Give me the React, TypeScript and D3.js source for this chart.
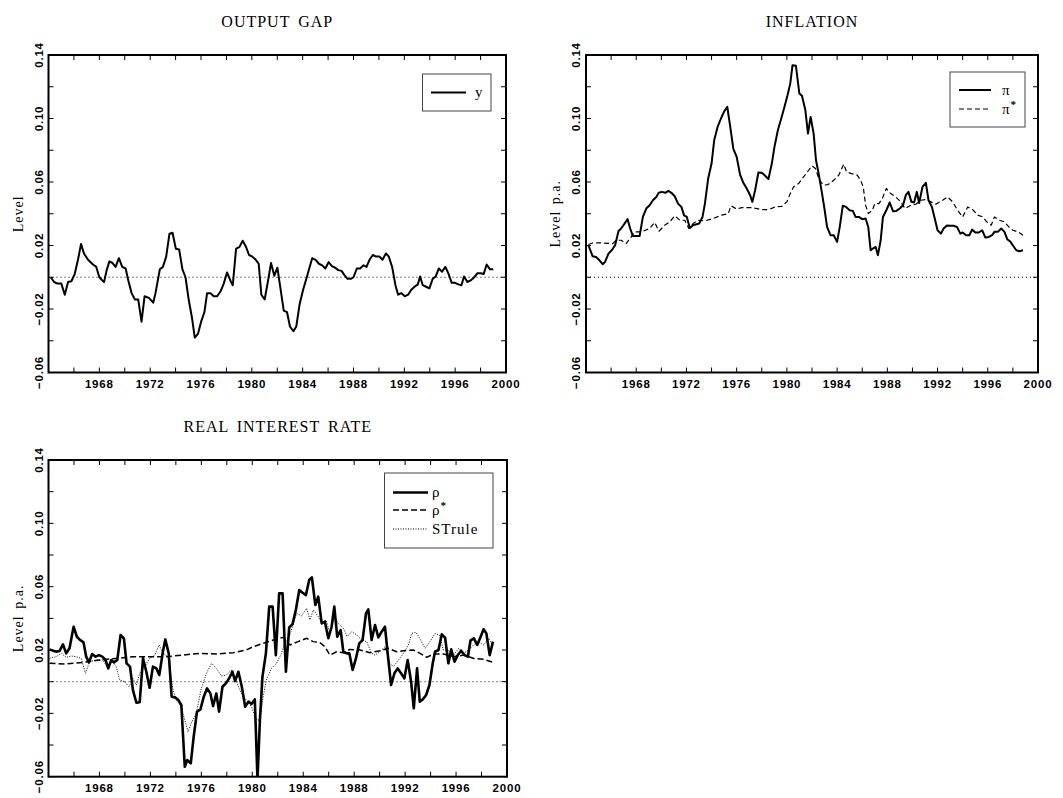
import * as d3 from "d3";
import React from "react";

// x: year (quarterly), y: level
type Pt = [number, number];

const X_DOMAIN: [number, number] = [1964, 2000];
const Y_DOMAIN: [number, number] = [-0.06, 0.14];
const X_TICKS = d3.range(1964, 2001, 2);
const X_LABELS = [1968, 1972, 1976, 1980, 1984, 1988, 1992, 1996, 2000];
const Y_TICKS = [-0.06, -0.04, -0.02, 0, 0.02, 0.04, 0.06, 0.08, 0.1, 0.12, 0.14];
const Y_LABELS = [-0.06, -0.02, 0.02, 0.06, 0.1, 0.14];

const outputGap: Pt[] = [
  [1964.18, 0.0], [1964.44, -0.003], [1964.7, -0.004], [1965.01, -0.004], [1965.28, -0.011],
  [1965.54, -0.003], [1965.8, -0.0025], [1966.06, 0.002], [1966.32, 0.011], [1966.56, 0.021],
  [1966.79, 0.015], [1967.11, 0.011], [1967.5, 0.008], [1967.76, 0.0065], [1968.0, 0.0],
  [1968.23, -0.002], [1968.37, -0.003], [1968.58, 0.0045], [1968.79, 0.01], [1969.02, 0.009],
  [1969.28, 0.0065], [1969.54, 0.012], [1969.8, 0.0065], [1970.07, 0.0055], [1970.28, -0.002],
  [1970.54, -0.01], [1970.8, -0.014], [1971.06, -0.014], [1971.32, -0.028], [1971.56, -0.012],
  [1971.9, -0.013], [1972.24, -0.016], [1972.42, -0.01], [1972.76, 0.005], [1973.0, 0.0065],
  [1973.26, 0.013], [1973.52, 0.0275], [1973.76, 0.028], [1974.02, 0.018], [1974.28, 0.0175],
  [1974.54, 0.005], [1974.78, 0.0], [1975.04, -0.0145], [1975.3, -0.026], [1975.51, -0.038],
  [1975.77, -0.0355], [1976.01, -0.028], [1976.27, -0.022], [1976.48, -0.01], [1976.74, -0.01],
  [1977.0, -0.012], [1977.27, -0.012], [1977.53, -0.009], [1977.79, -0.004], [1978.05, 0.003],
  [1978.31, -0.002], [1978.5, -0.005], [1978.76, 0.018], [1979.02, 0.019], [1979.28, 0.023],
  [1979.55, 0.019], [1979.78, 0.014], [1980.04, 0.013], [1980.31, 0.011], [1980.54, 0.0085],
  [1980.75, -0.011], [1981.01, -0.014], [1981.28, -0.002], [1981.51, 0.009], [1981.77, 0.001],
  [1982.01, 0.006], [1982.27, -0.008], [1982.51, -0.021], [1982.77, -0.022], [1983.0, -0.031],
  [1983.27, -0.034], [1983.5, -0.031], [1983.76, -0.017], [1984.03, -0.008], [1984.29, -0.001],
  [1984.55, 0.0065], [1984.75, 0.012], [1985.02, 0.011], [1985.28, 0.0085], [1985.54, 0.0075],
  [1985.78, 0.0055], [1986.04, 0.0095], [1986.3, 0.007], [1986.56, 0.006], [1986.8, 0.0045],
  [1987.06, 0.004], [1987.27, 0.0015], [1987.53, -0.001], [1987.79, -0.001], [1988.0, 0.0],
  [1988.26, 0.0055], [1988.52, 0.0055], [1988.79, 0.0075], [1989.02, 0.0065], [1989.26, 0.011],
  [1989.52, 0.014], [1989.78, 0.013], [1990.05, 0.013], [1990.28, 0.011], [1990.55, 0.015],
  [1990.78, 0.013], [1991.04, 0.0065], [1991.3, -0.005], [1991.51, -0.011], [1991.77, -0.01],
  [1992.03, -0.012], [1992.3, -0.011], [1992.53, -0.008], [1992.8, -0.006], [1993.06, -0.0045],
  [1993.24, 0.0005], [1993.45, -0.005], [1993.71, -0.006], [1993.97, -0.007], [1994.23, -0.001],
  [1994.47, 0.0005], [1994.71, 0.0055], [1994.97, 0.0035], [1995.23, 0.0065], [1995.46, 0.0025],
  [1995.73, -0.0035], [1995.99, -0.0035], [1996.25, -0.0045], [1996.49, -0.005], [1996.7, 0.0005],
  [1996.96, -0.003], [1997.22, -0.002], [1997.48, -0.0002], [1997.74, 0.0025], [1998.01, 0.0025],
  [1998.24, 0.002], [1998.48, 0.008], [1998.74, 0.005], [1999.0, 0.005],
];

const inflation: Pt[] = [
  [1964.19, 0.0202], [1964.53, 0.0132], [1964.8, 0.0128], [1965.07, 0.0107], [1965.33, 0.0082],
  [1965.52, 0.0097], [1965.79, 0.0149], [1966.05, 0.017], [1966.32, 0.0202], [1966.59, 0.0292],
  [1966.8, 0.0307], [1967.07, 0.0338], [1967.31, 0.0366], [1967.52, 0.0307], [1967.73, 0.026],
  [1968.0, 0.026], [1968.27, 0.026], [1968.53, 0.038], [1968.8, 0.0433], [1969.07, 0.0454],
  [1969.33, 0.0485], [1969.6, 0.0506], [1969.79, 0.0532], [1970.05, 0.0538], [1970.32, 0.0532],
  [1970.56, 0.0544], [1970.8, 0.0532], [1971.07, 0.051], [1971.33, 0.0464], [1971.6, 0.0443],
  [1971.81, 0.039], [1972.03, 0.038], [1972.27, 0.031], [1972.53, 0.0328], [1972.8, 0.0334],
  [1973.01, 0.0338], [1973.28, 0.038], [1973.47, 0.0464], [1973.73, 0.0622], [1974.0, 0.0716],
  [1974.21, 0.0863], [1974.48, 0.0947], [1974.75, 0.1], [1974.99, 0.1042], [1975.25, 0.1074],
  [1975.47, 0.0958], [1975.73, 0.0811], [1976.0, 0.0758], [1976.27, 0.0647], [1976.53, 0.0595],
  [1976.8, 0.0559], [1977.07, 0.0517], [1977.25, 0.0475], [1977.47, 0.0548], [1977.73, 0.066],
  [1978.0, 0.0658], [1978.27, 0.0639], [1978.53, 0.0618], [1978.8, 0.0716], [1979.01, 0.0821],
  [1979.28, 0.0926], [1979.55, 0.1], [1979.81, 0.1074], [1980.05, 0.1147], [1980.27, 0.1221],
  [1980.45, 0.1336], [1980.72, 0.1332], [1980.99, 0.1158], [1981.2, 0.1143], [1981.47, 0.1053],
  [1981.68, 0.0905], [1981.89, 0.101], [1982.13, 0.0905], [1982.32, 0.0737], [1982.53, 0.0653],
  [1982.8, 0.0527], [1982.99, 0.0433], [1983.2, 0.0317], [1983.47, 0.0265], [1983.73, 0.0265],
  [1984.0, 0.0223], [1984.21, 0.0317], [1984.45, 0.045], [1984.72, 0.0443], [1984.99, 0.0422],
  [1985.25, 0.0418], [1985.47, 0.038], [1985.73, 0.038], [1986.0, 0.0366], [1986.27, 0.037],
  [1986.48, 0.0317], [1986.67, 0.017], [1986.85, 0.0181], [1987.07, 0.0191], [1987.25, 0.0139],
  [1987.47, 0.0233], [1987.65, 0.038], [1987.92, 0.0422], [1988.19, 0.0471], [1988.45, 0.0416],
  [1988.72, 0.0418], [1988.99, 0.0433], [1989.25, 0.0454], [1989.47, 0.0517], [1989.68, 0.0538],
  [1989.92, 0.0475], [1990.13, 0.0471], [1990.35, 0.0538], [1990.53, 0.0468], [1990.8, 0.0569],
  [1991.07, 0.0595], [1991.28, 0.0485], [1991.55, 0.0443], [1991.81, 0.0359], [1992.0, 0.0296],
  [1992.27, 0.0275], [1992.48, 0.0307], [1992.75, 0.0326], [1993.01, 0.0324], [1993.28, 0.0324],
  [1993.55, 0.0317], [1993.81, 0.0275], [1994.0, 0.0282], [1994.27, 0.0265], [1994.53, 0.0265],
  [1994.75, 0.03], [1995.01, 0.0282], [1995.28, 0.0282], [1995.55, 0.0296], [1995.81, 0.025],
  [1996.08, 0.0254], [1996.35, 0.0265], [1996.53, 0.0286], [1996.8, 0.0286], [1997.07, 0.0307],
  [1997.33, 0.0286], [1997.55, 0.024], [1997.81, 0.0223], [1998.03, 0.0197], [1998.27, 0.017],
  [1998.53, 0.0164], [1998.8, 0.017],
];

const inflationTarget: Pt[] = [
  [1964.19, 0.0206], [1964.53, 0.0216], [1965.2, 0.0216], [1966.13, 0.0212], [1966.4, 0.0233],
  [1966.8, 0.0233], [1967.2, 0.0212], [1967.6, 0.0254], [1967.87, 0.0286], [1968.4, 0.0286],
  [1969.07, 0.0307], [1969.47, 0.0345], [1969.81, 0.029], [1970.27, 0.0328], [1970.67, 0.0349],
  [1971.07, 0.0387], [1971.47, 0.0359], [1971.87, 0.0359], [1972.19, 0.0307], [1972.53, 0.0338],
  [1972.93, 0.0359], [1973.47, 0.0355], [1974.13, 0.037], [1974.8, 0.0391], [1975.33, 0.0401],
  [1975.55, 0.045], [1976.0, 0.0429], [1976.4, 0.0439], [1977.2, 0.0439], [1978.0, 0.0426],
  [1978.53, 0.0426], [1979.07, 0.0443], [1979.6, 0.0447], [1980.0, 0.0475], [1980.27, 0.0527],
  [1980.53, 0.0569], [1980.93, 0.059], [1981.33, 0.0632], [1981.73, 0.0674], [1982.0, 0.0702],
  [1982.27, 0.0685], [1982.59, 0.0611], [1982.93, 0.058], [1983.28, 0.0584], [1983.73, 0.0611],
  [1984.13, 0.0643], [1984.53, 0.0712], [1984.75, 0.0664], [1985.15, 0.0653], [1985.6, 0.0643],
  [1985.87, 0.0611], [1986.08, 0.0569], [1986.27, 0.0454], [1986.48, 0.0401], [1986.8, 0.0422],
  [1987.01, 0.0464], [1987.33, 0.0464], [1987.6, 0.0496], [1987.92, 0.0559], [1988.27, 0.0527],
  [1988.67, 0.0506], [1989.07, 0.0475], [1989.41, 0.0433], [1989.87, 0.0454], [1990.27, 0.046],
  [1990.67, 0.0485], [1991.07, 0.049], [1991.47, 0.0475], [1991.87, 0.046], [1992.4, 0.0485],
  [1992.8, 0.0506], [1993.2, 0.0475], [1993.6, 0.0422], [1994.0, 0.038], [1994.4, 0.0443],
  [1994.8, 0.0426], [1995.2, 0.0391], [1995.6, 0.038], [1995.92, 0.0349], [1996.27, 0.0328],
  [1996.53, 0.038], [1996.93, 0.0359], [1997.33, 0.0349], [1997.68, 0.0317], [1998.0, 0.0296],
  [1998.4, 0.0286], [1998.8, 0.0265],
];

const realRate: Pt[] = [
  [1964.08, 0.0204], [1964.34, 0.0196], [1964.6, 0.019], [1964.87, 0.0194], [1965.13, 0.0236],
  [1965.39, 0.0179], [1965.65, 0.0211], [1965.97, 0.0347], [1966.23, 0.0284], [1966.49, 0.0263],
  [1966.75, 0.0248], [1966.96, 0.0158], [1967.17, 0.0122], [1967.43, 0.0175], [1967.7, 0.0158],
  [1967.96, 0.0168], [1968.22, 0.0158], [1968.48, 0.0137], [1968.69, 0.0084], [1968.93, 0.0137],
  [1969.14, 0.0122], [1969.4, 0.0137], [1969.66, 0.0295], [1969.92, 0.0274], [1970.13, 0.0116],
  [1970.4, 0.0095], [1970.63, -0.0053], [1970.9, -0.0133], [1971.16, -0.013], [1971.42, 0.0147],
  [1971.68, 0.0063], [1971.94, -0.0038], [1972.2, 0.0095], [1972.47, 0.0084], [1972.7, 0.0042],
  [1972.96, 0.0179], [1973.17, 0.0267], [1973.44, 0.0179], [1973.67, -0.0095], [1973.93, -0.0099],
  [1974.2, -0.0116], [1974.43, -0.0147], [1974.7, -0.0537], [1974.9, -0.0495], [1975.17, -0.0516],
  [1975.4, -0.0347], [1975.66, -0.0189], [1975.93, -0.0175], [1976.19, -0.0095], [1976.45, -0.0042],
  [1976.71, -0.0074], [1976.92, -0.0154], [1977.18, -0.0074], [1977.39, -0.0189], [1977.66, -0.0032],
  [1977.92, -0.0011], [1978.18, 0.0021], [1978.44, 0.0063], [1978.65, 0.0004], [1978.91, 0.0063],
  [1979.18, -0.0032], [1979.44, -0.0158], [1979.7, -0.0126], [1979.94, -0.0141], [1980.2, -0.0112],
  [1980.41, -0.062], [1980.6, -0.0242], [1980.8, 0.0032], [1981.07, 0.0179], [1981.33, 0.0474],
  [1981.6, 0.0474], [1981.85, 0.0168], [1982.11, 0.0558], [1982.38, 0.0558], [1982.64, 0.0063],
  [1982.9, 0.0343], [1983.16, 0.0364], [1983.42, 0.0453], [1983.69, 0.0579], [1983.95, 0.0562],
  [1984.21, 0.0547], [1984.47, 0.0642], [1984.68, 0.0659], [1984.95, 0.0484], [1985.18, 0.0537],
  [1985.45, 0.0368], [1985.7, 0.0379], [1985.97, 0.0274], [1986.23, 0.0347], [1986.44, 0.0474],
  [1986.67, 0.0284], [1986.94, 0.0326], [1987.15, 0.0189], [1987.41, 0.0179], [1987.62, 0.0179],
  [1987.88, 0.0074], [1988.14, 0.0147], [1988.4, 0.0242], [1988.66, 0.0263], [1988.93, 0.0432],
  [1989.11, 0.0457], [1989.37, 0.0263], [1989.64, 0.0358], [1989.9, 0.028], [1990.16, 0.0316],
  [1990.42, 0.0347], [1990.63, 0.0179], [1990.9, -0.0021], [1991.16, 0.0053], [1991.42, 0.0084],
  [1991.68, 0.0053], [1991.94, 0.0021], [1992.2, 0.0137], [1992.47, 0.0], [1992.68, -0.0168],
  [1992.94, 0.0084], [1993.15, -0.0126], [1993.38, -0.0112], [1993.65, -0.0084], [1993.91, -0.0021],
  [1994.17, 0.0116], [1994.35, 0.0189], [1994.62, 0.02], [1994.88, 0.0299], [1995.14, 0.0278],
  [1995.4, 0.0116], [1995.62, 0.0204], [1995.88, 0.0126], [1996.14, 0.0168], [1996.4, 0.0196],
  [1996.66, 0.0168], [1996.93, 0.0158], [1997.13, 0.0259], [1997.4, 0.0274], [1997.66, 0.0232],
  [1997.93, 0.0284], [1998.16, 0.0331], [1998.38, 0.0305], [1998.64, 0.0168], [1998.9, 0.0253],
];

const realRateTarget: Pt[] = [
  [1964.08, 0.0116], [1965.4, 0.0112], [1966.7, 0.0122], [1968.0, 0.0137], [1969.3, 0.0147],
  [1970.63, 0.0158], [1971.94, 0.0158], [1973.25, 0.0158], [1974.56, 0.0168], [1975.87, 0.0179],
  [1977.18, 0.0175], [1978.5, 0.0183], [1979.54, 0.02], [1980.07, 0.0221], [1980.85, 0.0242],
  [1981.64, 0.0263], [1982.43, 0.028], [1982.96, 0.0232], [1983.6, 0.0253], [1984.26, 0.0274],
  [1984.79, 0.0253], [1985.3, 0.0248], [1985.7, 0.0221], [1986.1, 0.0168], [1986.62, 0.0189],
  [1987.15, 0.0183], [1987.67, 0.0204], [1988.46, 0.02], [1989.24, 0.0183], [1990.03, 0.0196],
  [1990.68, 0.0211], [1991.34, 0.0189], [1991.87, 0.0196], [1992.65, 0.02], [1993.17, 0.0179],
  [1993.7, 0.0154], [1994.22, 0.0175], [1995.0, 0.0175], [1995.8, 0.0158], [1996.6, 0.0168],
  [1997.4, 0.0147], [1998.16, 0.0141], [1998.9, 0.0122],
];

const stRule: Pt[] = [
  [1964.08, 0.0147], [1964.6, 0.0158], [1965.0, 0.0179], [1965.4, 0.0154], [1965.78, 0.0162],
  [1966.18, 0.0158], [1966.57, 0.0147], [1966.9, 0.0053], [1967.22, 0.0126], [1967.75, 0.0137],
  [1968.27, 0.0137], [1968.67, 0.0084], [1969.0, 0.0126], [1969.32, 0.0095], [1969.58, 0.0011],
  [1969.97, 0.0], [1970.32, -0.0032], [1970.63, 0.0021], [1970.9, -0.0021], [1971.16, 0.0053],
  [1971.55, 0.0095], [1971.94, 0.0147], [1972.34, 0.0168], [1972.68, 0.0232], [1972.99, 0.0179],
  [1973.38, 0.0158], [1973.78, -0.0053], [1974.04, -0.0116], [1974.43, -0.0158], [1974.7, -0.0242],
  [1974.96, -0.0316], [1975.2, -0.0263], [1975.6, -0.02], [1976.0, -0.0042], [1976.4, 0.0053],
  [1976.8, 0.0116], [1977.18, 0.0084], [1977.58, 0.0036], [1977.97, 0.0042], [1978.36, 0.0074],
  [1978.76, 0.0], [1979.15, -0.0074], [1979.54, -0.0116], [1979.94, -0.0158], [1980.33, -0.0242],
  [1980.6, -0.0242], [1980.86, -0.0095], [1981.1, 0.0011], [1981.5, 0.0084], [1981.9, 0.0116],
  [1982.3, 0.0179], [1982.56, 0.0253], [1982.82, 0.0263], [1983.16, 0.0347], [1983.48, 0.0432],
  [1983.87, 0.0415], [1984.26, 0.0463], [1984.53, 0.039], [1984.79, 0.0453], [1985.18, 0.0411],
  [1985.45, 0.0368], [1985.79, 0.039], [1986.1, 0.0305], [1986.44, 0.0411], [1986.76, 0.0368],
  [1987.15, 0.0337], [1987.46, 0.0284], [1987.8, 0.0316], [1988.2, 0.0295], [1988.6, 0.0263],
  [1988.98, 0.0253], [1989.37, 0.0179], [1989.64, 0.0168], [1990.0, 0.0189], [1990.42, 0.0221],
  [1990.8, 0.0116], [1991.08, 0.0095], [1991.48, 0.0137], [1991.87, 0.0179], [1992.26, 0.0232],
  [1992.52, 0.0305], [1992.86, 0.0312], [1993.22, 0.0263], [1993.57, 0.0211], [1993.96, 0.0253],
  [1994.35, 0.0305], [1994.7, 0.0295], [1995.0, 0.02], [1995.4, 0.0196], [1995.8, 0.0168],
  [1996.2, 0.0211], [1996.6, 0.0179], [1996.98, 0.02], [1997.37, 0.0232], [1997.76, 0.0253],
  [1998.16, 0.0232], [1998.55, 0.0274], [1998.9, 0.0232],
];

type Series = { data: Pt[]; width: number; dash?: string; label: string; sup?: boolean };

const SERIF = "'Liberation Serif', 'Times New Roman', serif";
const SANS = "'Liberation Sans', Arial, sans-serif";

function Panel({ id, left, right, top, bottom, title, yTitle, series, legend }: {
  id: string; left: number; right: number; top: number; bottom: number;
  title: string; yTitle: string; series: Series[];
  legend: { x0: number; x1: number; y0: number; y1: number; rowY: number[]; lineX0: number; lineX1: number; textX: number };
}) {
  const x = d3.scaleLinear().domain(X_DOMAIN).range([left, right]);
  const y = d3.scaleLinear().domain(Y_DOMAIN).range([bottom, top]);
  const line = d3.line<Pt>().x((d) => x(d[0])).y((d) => y(d[1]));
  const tk = 5;
  const fmt = (v: number) => (v < 0 ? "\u2212" : "") + d3.format(".2f")(Math.abs(v));
  return (
    <g>
      <defs>
        <clipPath id={id}>
          <rect x={left} y={top} width={right - left} height={bottom - top} />
        </clipPath>
      </defs>
      <text x={(left + right) / 2} y={top - 28} textAnchor="middle" fontFamily={SERIF} fontSize={16}
        letterSpacing={1} wordSpacing={3}>{title}</text>
      <text transform={`translate(${left - 26},${(top + bottom) / 2}) rotate(-90)`} textAnchor="middle"
        fontFamily={SERIF} fontSize={14} letterSpacing={1} wordSpacing={2}>{yTitle}</text>
      {/* zero line */}
      <line x1={left} x2={right} y1={y(0)} y2={y(0)} stroke="#000" strokeWidth={1} strokeDasharray="1,3" />
      <g clipPath={`url(#${id})`} fill="none" stroke="#000" strokeLinejoin="round">
        {series.map((s, i) => (
          <path key={i} d={line(s.data) ?? ""} strokeWidth={s.width} strokeDasharray={s.dash} />
        ))}
      </g>
      {/* ticks */}
      <g stroke="#000" strokeWidth={1}>
        {X_TICKS.map((t) => (
          <g key={t}>
            <line x1={x(t)} x2={x(t)} y1={bottom} y2={bottom - tk} />
            <line x1={x(t)} x2={x(t)} y1={top} y2={top + tk} />
          </g>
        ))}
        {Y_TICKS.map((t) => (
          <g key={t}>
            <line x1={left} x2={left + tk} y1={y(t)} y2={y(t)} />
            <line x1={right} x2={right - tk} y1={y(t)} y2={y(t)} />
          </g>
        ))}
      </g>
      <rect x={left} y={top} width={right - left} height={bottom - top} fill="none" stroke="#000" strokeWidth={2} />
      <g fontFamily={SANS} fontWeight="bold" fontSize={11.5} letterSpacing={0.8}>
        {X_LABELS.map((t) => (
          <text key={t} x={x(t)} y={bottom + 15.5} textAnchor="middle">{t}</text>
        ))}
        {Y_LABELS.map((t) => (
          <text key={t} transform={`translate(${left - 6},${y(t)}) rotate(-90)`} textAnchor="middle">{fmt(t)}</text>
        ))}
      </g>
      {/* legend */}
      <rect x={legend.x0} y={legend.y0} width={legend.x1 - legend.x0} height={legend.y1 - legend.y0}
        fill="#fff" stroke="#444" strokeWidth={1} />
      {series.map((s, i) => (
        <g key={i}>
          <line x1={legend.lineX0} x2={legend.lineX1} y1={legend.rowY[i]} y2={legend.rowY[i]} stroke="#000"
            strokeWidth={s.width} strokeDasharray={s.dash} />
          <text x={legend.textX} y={legend.rowY[i] + 4.5} fontFamily={SERIF} fontSize={15} letterSpacing={1}>
            {s.label}
            {s.sup ? <tspan dy={-6} fontSize={11} fontWeight="bold">*</tspan> : null}
          </text>
        </g>
      ))}
    </g>
  );
}

export default function App() {
  return (
    <svg width={1063} height={798} style={{ position: "absolute", left: 0, top: 0, background: "#fff" }}>
      <Panel id="c1" left={48.5} right={506} top={55} bottom={372.5} title="OUTPUT GAP" yTitle="Level"
        series={[{ data: outputGap, width: 2, label: "y" }]}
        legend={{ x0: 422.5, x1: 491, y0: 74, y1: 111, rowY: [92.5], lineX0: 431, lineX1: 466, textX: 475 }} />
      <Panel id="c2" left={586} right={1038} top={55} bottom={372.5} title="INFLATION" yTitle="Level p.a."
        series={[
          { data: inflation, width: 2, label: "\u03c0" },
          { data: inflationTarget, width: 1.2, dash: "5,3", label: "\u03c0", sup: true },
        ]}
        legend={{ x0: 950, x1: 1025, y0: 72, y1: 127, rowY: [90, 109], lineX0: 959, lineX1: 991, textX: 1002 }} />
      <Panel id="c3" left={48.5} right={507} top={460} bottom={776.7} title="REAL INTEREST RATE" yTitle="Level p.a."
        series={[
          { data: realRate, width: 2.6, label: "\u03c1" },
          { data: realRateTarget, width: 1.5, dash: "6,3", label: "\u03c1", sup: true },
          { data: stRule, width: 1, dash: "1,1.5", label: "STrule" },
        ]}
        legend={{ x0: 384.5, x1: 493, y0: 473, y1: 548, rowY: [492.5, 510, 529], lineX0: 393, lineX1: 428, textX: 432 }} />
    </svg>
  );
}
